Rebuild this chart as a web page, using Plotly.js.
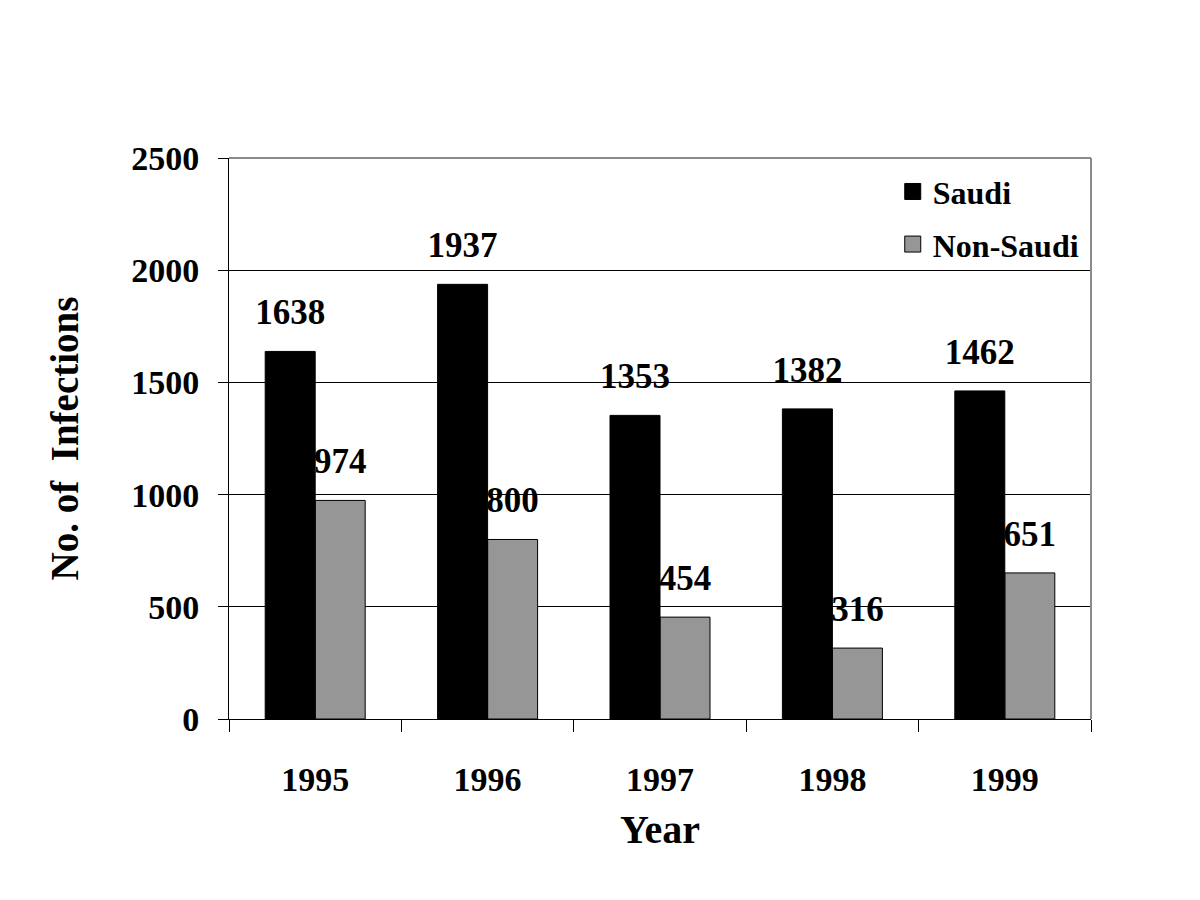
<!DOCTYPE html>
<html>
<head>
<meta charset="utf-8">
<script src="https://cdn.plot.ly/plotly-3.0.1.min.js"></script>
<style>html,body{margin:0;padding:0;background:#fff;}#chart{width:1200px;height:900px;}</style>
</head>
<body>
<div id="chart"></div>
<script>
const years = ['1995', '1996', '1997', '1998', '1999'];
const saudi = [1638, 1937, 1353, 1382, 1462];
const nonSaudi = [974, 800, 454, 316, 651];
const seriesNames = ['Saudi', 'Non-Saudi'];
const yTicks = [0, 500, 1000, 1500, 2000, 2500];

const FONT = '"Liberation Serif", "Times New Roman", serif';
const BW = 0.29;
const LABEL_PAD = 72;
const labelFont = {family: FONT, size: 35, color: '#000', weight: 'bold'};

function labelTrace(vals, offset) {
  return {
    type: 'bar', x: years, y: vals.map(() => LABEL_PAD), base: vals,
    offset: offset, width: BW,
    marker: {color: 'rgba(0,0,0,0)', line: {width: 0}},
    text: vals.map(String), textposition: 'outside', constraintext: 'none',
    textfont: labelFont, outsidetextfont: labelFont,
    cliponaxis: false, showlegend: false, hoverinfo: 'skip'
  };
}

const data = [
  labelTrace(nonSaudi, 0),
  {type: 'bar', x: years, y: nonSaudi, offset: 0, width: BW, name: seriesNames[1],
   marker: {color: '#969696', line: {color: '#000', width: 1}}, showlegend: false},
  {type: 'bar', x: years, y: saudi, offset: -BW, width: BW, name: seriesNames[0],
   marker: {color: '#000', line: {color: '#000', width: 1}}, showlegend: false},
  labelTrace(saudi, -BW),
  {type: 'scatter', mode: 'markers', x: [null], y: [null], name: seriesNames[0], legendgroup: 'a',
   marker: {symbol: 'square', size: 16, color: '#000', line: {color: '#000', width: 1}}},
  {type: 'scatter', mode: 'markers', x: [null], y: [null], name: seriesNames[1], legendgroup: 'b',
   marker: {symbol: 'square', size: 16, color: '#969696', line: {color: '#000', width: 1}}}
];

const layout = {
  width: 1200, height: 900,
  margin: {l: 229, r: 109, t: 158, b: 181},
  paper_bgcolor: '#fff', plot_bgcolor: '#fff',
  barmode: 'overlay',
  showlegend: true,
  legend: {x: 0.77, y: 0.989, xanchor: 'left', yanchor: 'top',
    font: {family: FONT, size: 32, color: '#000', weight: 'bold'},
    bgcolor: 'rgba(0,0,0,0)', tracegroupgap: 8, traceorder: 'grouped', itemwidth: 30},
  xaxis: {
    type: 'category', range: [-0.5, 4.5], tickson: 'boundaries',
    showline: true, linecolor: '#000', linewidth: 1,
    ticks: 'outside', ticklen: 12, tickcolor: '#000', tickwidth: 1,
    showgrid: false, zeroline: false, ticklabelstandoff: 30,
    tickfont: {family: FONT, size: 34, color: '#000', weight: 'bold'},
    title: {text: 'Year', standoff: 18, font: {family: FONT, size: 40, color: '#000', weight: 'bold'}}
  },
  yaxis: {
    range: [0, 2500], tickvals: yTicks, ticktext: yTicks.map(String),
    showline: true, linecolor: '#000', linewidth: 1,
    ticks: 'outside', ticklen: 10, tickcolor: '#000', tickwidth: 1,
    showgrid: true, gridcolor: '#000', gridwidth: 1, zeroline: false,
    ticklabelstandoff: 12,
    tickfont: {family: FONT, size: 34, color: '#000', weight: 'bold'},
    title: {text: 'No. of  Infections', standoff: 40, font: {family: FONT, size: 39, color: '#000', weight: 'bold'}}
  },
  shapes: [
    {type: 'line', xref: 'paper', yref: 'paper', x0: 0, x1: 1, y0: 1, y1: 1, line: {color: '#8a8a8a', width: 2}},
    {type: 'line', xref: 'paper', yref: 'paper', x0: 1, x1: 1, y0: 0, y1: 1, line: {color: '#8a8a8a', width: 2}}
  ]
};

Plotly.newPlot('chart', data, layout, {displayModeBar: false, staticPlot: true});
</script>
</body>
</html>
